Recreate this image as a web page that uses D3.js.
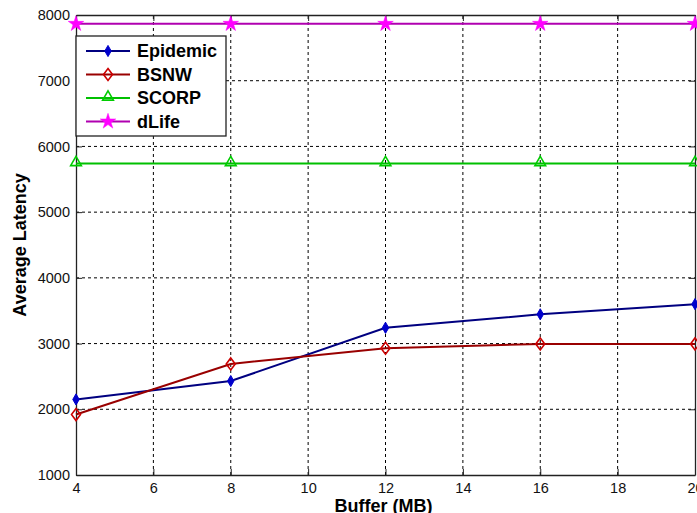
<!doctype html>
<html>
<head>
  <meta charset="utf-8">
  <title>Average Latency vs Buffer</title>
  <script src="https://cdnjs.cloudflare.com/ajax/libs/d3/7.8.5/d3.min.js"></script>
  <style>
    html, body { margin: 0; padding: 0; background: #fff; }
    svg { display: block; font-family: "Liberation Sans", Arial, sans-serif; }
  </style>
</head>
<body>
  <div id="chart"></div>
  <script>
    // data
    const buffer = [4, 8, 12, 16, 20];
    const epidemic = [2150, 2430, 3240, 3445, 3600];
    const bsnw = [1920, 2690, 2930, 2995, 2995];
    const scorp = [5740, 5740, 5740, 5740, 5740];
    const dlife = [7865, 7865, 7865, 7865, 7865];
    const xTicks = [4, 6, 8, 10, 12, 14, 16, 18, 20];
    const yTicks = [1000, 2000, 3000, 4000, 5000, 6000, 7000, 8000];

    const series = [
      { name: 'Epidemic', values: epidemic, line: '#000080', mark: 'dot', color: '#0000cc' },
      { name: 'BSNW', values: bsnw, line: '#990000', mark: 'diamond', color: '#cc0000' },
      { name: 'SCORP', values: scorp, line: '#00c000', mark: 'triangle', color: '#00cc00' },
      { name: 'dLife', values: dlife, line: '#b000b0', mark: 'star', color: '#ff00ff' }
    ];

    const W = 697, H = 513;
    const margin = { left: 76, top: 15, right: 2, bottom: 38 };

    const svg = d3.select('#chart').append('svg')
      .attr('width', W)
      .attr('height', H);

    const x = d3.scaleLinear().domain([4, 20]).range([margin.left, W - margin.right]);
    const y = d3.scaleLinear().domain([1000, 8000]).range([H - margin.bottom, margin.top]);

    // dotted grid
    svg.append('g').selectAll('line.gx')
      .data(xTicks.slice(1, -1))
      .join('line')
      .attr('x1', d => x(d)).attr('x2', d => x(d))
      .attr('y1', y(1000)).attr('y2', y(8000))
      .style('stroke', '#000').style('stroke-width', 1)
      .style('stroke-dasharray', '3,3');

    svg.append('g').selectAll('line.gy')
      .data(yTicks.slice(1, -1))
      .join('line')
      .attr('y1', d => y(d)).attr('y2', d => y(d))
      .attr('x1', x(4)).attr('x2', x(20))
      .style('stroke', '#000').style('stroke-width', 1)
      .style('stroke-dasharray', '3,3');

    // axes (ticks inward, like matlab)
    const xAxis = svg.append('g')
      .attr('transform', `translate(0,${y(1000)})`)
      .call(d3.axisBottom(x).tickValues(xTicks).tickFormat(d3.format('d'))
        .tickSizeInner(-6).tickSizeOuter(0).tickPadding(8));
    const yAxis = svg.append('g')
      .attr('transform', `translate(${x(4)},0)`)
      .call(d3.axisLeft(y).tickValues(yTicks).tickFormat(d3.format('d'))
        .tickSizeInner(-6).tickSizeOuter(0).tickPadding(6));
    svg.append('g')
      .attr('transform', `translate(0,${y(8000)})`)
      .call(d3.axisTop(x).tickValues(xTicks).tickSizeInner(-6).tickSizeOuter(0).tickFormat(''));
    svg.append('g')
      .attr('transform', `translate(${x(20)},0)`)
      .call(d3.axisRight(y).tickValues(yTicks).tickSizeInner(-6).tickSizeOuter(0).tickFormat(''));

    svg.selectAll('.domain').style('stroke', '#222').style('stroke-width', 1.3);
    svg.selectAll('.tick line').style('stroke', '#222');
    xAxis.selectAll('text').style('font-size', '14.5px').style('fill', '#111');
    yAxis.selectAll('text').style('font-size', '14.5px').style('fill', '#111');

    // markers
    const star = d3.symbol().type(d3.symbolStar).size(75);
    const tri = d3.symbol().type(d3.symbolTriangle).size(50);
    function drawMark(g, s, cx, cy) {
      if (s.mark === 'dot') {
        g.append('path')
          .attr('d', d3.symbol().type(d3.symbolDiamond).size(36)())
          .attr('transform', `translate(${cx},${cy})`)
          .style('fill', s.color).style('stroke', s.color).style('stroke-width', 1);
      } else if (s.mark === 'diamond') {
        g.append('path')
          .attr('d', 'M0,-6L4.5,0L0,6L-4.5,0Z')
          .attr('transform', `translate(${cx},${cy})`)
          .style('fill', 'none').style('stroke', s.color).style('stroke-width', 1.6);
      } else if (s.mark === 'triangle') {
        g.append('path')
          .attr('d', tri())
          .attr('transform', `translate(${cx},${cy - 1})`)
          .style('fill', 'none').style('stroke', s.color).style('stroke-width', 1.6);
      } else {
        g.append('path')
          .attr('d', star())
          .attr('transform', `translate(${cx},${cy})`)
          .style('fill', s.color).style('stroke', s.color).style('stroke-width', 0.5);
      }
    }

    const line = d3.line().x((d, i) => x(buffer[i])).y(d => y(d));
    const plot = svg.append('g');
    series.forEach(s => {
      plot.append('path')
        .datum(s.values)
        .attr('d', line)
        .style('fill', 'none')
        .style('stroke', s.line)
        .style('stroke-width', 2);
      s.values.forEach((v, i) => drawMark(plot, s, x(buffer[i]), y(v)));
    });

    // legend
    const lg = svg.append('g').attr('transform', `translate(${x(4)},36)`);
    lg.append('rect')
      .attr('width', 150).attr('height', 100)
      .style('fill', '#fff').style('stroke', '#222').style('stroke-width', 1.3);
    series.forEach((s, i) => {
      const ly = 15 + i * 23.5;
      lg.append('line')
        .attr('x1', 10).attr('x2', 54).attr('y1', ly).attr('y2', ly)
        .style('stroke', s.line).style('stroke-width', 2);
      drawMark(lg, s, 32, ly);
      lg.append('text')
        .attr('x', 61).attr('y', ly + 6)
        .style('font-size', '18px').style('font-weight', 'bold')
        .text(s.name);
    });

    // axis titles
    svg.append('text')
      .attr('x', (x(4) + x(20)) / 2 - 2).attr('y', 512)
      .attr('text-anchor', 'middle')
      .style('font-size', '18px').style('font-weight', 'bold')
      .text('Buffer (MB)');
    svg.append('text')
      .attr('transform', `translate(26,${(y(1000) + y(8000)) / 2}) rotate(-90)`)
      .attr('text-anchor', 'middle')
      .style('font-size', '18px').style('font-weight', 'bold')
      .text('Average Latency');
  </script>
</body>
</html>
